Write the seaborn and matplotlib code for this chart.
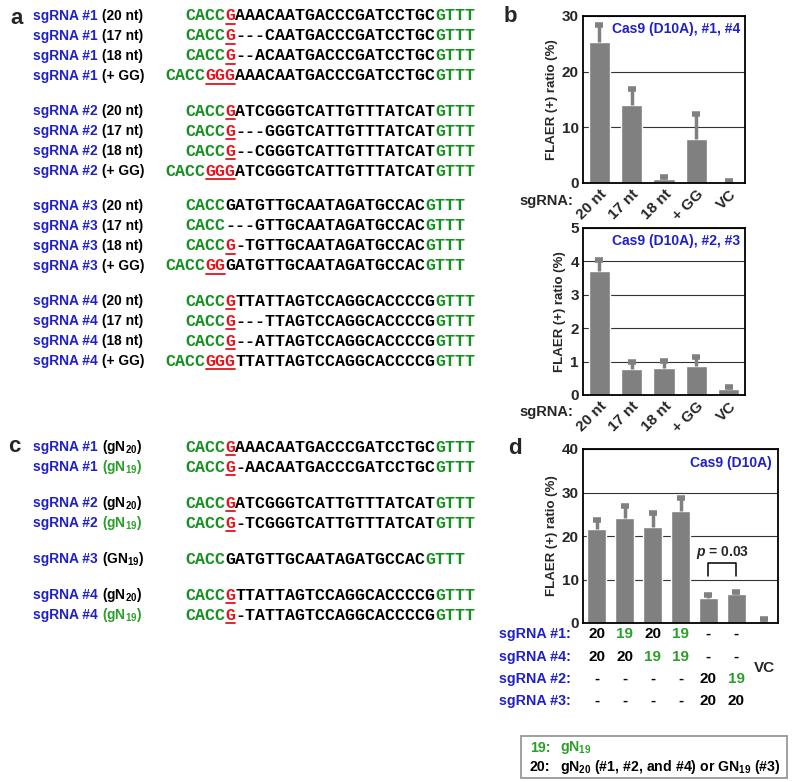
import numpy as np
import pandas as pd
import matplotlib
matplotlib.use("Agg")
import matplotlib.pyplot as plt
from matplotlib.patches import Rectangle
import seaborn as sns

# colours
BLUE = "#1f1fcc"
GREEN = "#14901e"
GREEN2 = "#2aa02a"
RED = "#e4141c"
GRAY = "#808080"

# ---- panel a: sgRNA sequences ----
a_names = ["#1"] * 4 + ["#2"] * 4 + ["#3"] * 4 + ["#4"] * 4
a_kind = ["(20 nt)", "(17 nt)", "(18 nt)", "(+ GG)"] * 4
a_red = ["G", "G", "G", "GGG",
         "G", "G", "G", "GGG",
         "", "", "G", "GG",
         "G", "G", "G", "GGG"]
a_spacer = ["AAACAATGACCCGATCCTGC", "---CAATGACCCGATCCTGC", "--ACAATGACCCGATCCTGC", "AAACAATGACCCGATCCTGC",
            "ATCGGGTCATTGTTTATCAT", "---GGGTCATTGTTTATCAT", "--CGGGTCATTGTTTATCAT", "ATCGGGTCATTGTTTATCAT",
            "GATGTTGCAATAGATGCCAC", "---GTTGCAATAGATGCCAC", "-TGTTGCAATAGATGCCAC", "GATGTTGCAATAGATGCCAC",
            "TTATTAGTCCAGGCACCCCG", "---TTAGTCCAGGCACCCCG", "--ATTAGTCCAGGCACCCCG", "TTATTAGTCCAGGCACCCCG"]

# ---- panel c: gN20 / gN19 sequences ----
c_names = ["#1", "#1", "#2", "#2", "#3", "#4", "#4"]
c_kind = ["(gN$_{20}$)", "(gN$_{19}$)", "(gN$_{20}$)", "(gN$_{19}$)", "(GN$_{19}$)", "(gN$_{20}$)", "(gN$_{19}$)"]
c_kind_col = ["black", GREEN2, "black", GREEN2, "black", "black", GREEN2]
c_red = ["G", "G", "G", "G", "", "G", "G"]
c_spacer = ["AAACAATGACCCGATCCTGC", "-AACAATGACCCGATCCTGC",
            "ATCGGGTCATTGTTTATCAT", "-TCGGGTCATTGTTTATCAT",
            "GATGTTGCAATAGATGCCAC",
            "TTATTAGTCCAGGCACCCCG", "-TATTAGTCCAGGCACCCCG"]
c_group = [0, 0, 1, 1, 2, 3, 3]

# ---- panel b ----
b_cats = ["20 nt", "17 nt", "18 nt", "+ GG", "VC"]
b1_mean = [25.3, 14.0, 0.7, 7.9, 0.1]
b1_top = [28.4, 16.9, 1.1, 12.4, 0.4]
b2_mean = [3.70, 0.78, 0.81, 0.86, 0.18]
b2_top = [4.03, 1.00, 1.01, 1.13, 0.25]

# ---- panel d ----
d_cats = ["1", "2", "3", "4", "5", "6", "7"]
d_mean = [21.6, 24.1, 22.1, 25.8, 5.7, 6.7, 0.5]
d_top = [23.7, 26.9, 25.3, 28.7, 6.4, 7.1, 0.9]
d_row_names = ["sgRNA #1:", "sgRNA #4:", "sgRNA #2:", "sgRNA #3:"]
d_rows = [["20", "19", "20", "19", "-", "-"],
          ["20", "20", "19", "19", "-", "-"],
          ["-", "-", "-", "-", "20", "19"],
          ["-", "-", "-", "-", "20", "20"]]

sns.set_style("white")
plt.rcParams["font.family"] = ["Liberation Sans", "DejaVu Sans"]
plt.rcParams["font.weight"] = "bold"
plt.rcParams["mathtext.fontset"] = "custom"
plt.rcParams["mathtext.rm"] = "Liberation Sans:bold"
plt.rcParams["mathtext.bf"] = "Liberation Sans:bold"
plt.rcParams["mathtext.it"] = "Liberation Sans:bold:italic"

W, H = 792, 782
fig = plt.figure(figsize=(W / 100, H / 100), dpi=100)

# overlay in pixel coordinates for the text panels
ov = fig.add_axes([0, 0, 1, 1])
ov.set_xlim(0, W)
ov.set_ylim(H, 0)
ov.axis("off")

MONO = dict(family="Liberation Mono", fontweight="bold", fontsize=12, va="center", ha="left")
SANS = dict(fontsize=9.9, fontweight="bold", va="center", ha="left")
CW = 10.0
SEQ_X = 185


def draw_seq(y, red, spacer, start):
    x0 = SEQ_X + start * CW
    col = 0
    for s, c in [("CACC", GREEN), (red, RED), (spacer, "black"), ("GTTT", GREEN)]:
        if s:
            ov.text(x0 + col * CW, y, s, color=c, **MONO)
            if c == RED:
                ov.plot([x0 + col * CW + 0.5, x0 + (col + len(s)) * CW - 0.5], [y + 8, y + 8],
                        color=RED, lw=1.3)
        col += len(s)


# panel a
for i in range(len(a_names)):
    g, r = divmod(i, 4)
    y = 16 + g * 95 + r * 20
    ov.text(33, y, "sgRNA " + a_names[i], color=BLUE, **SANS)
    ov.text(102, y, a_kind[i], color="black", **SANS)
    start = -2 if "GG" in a_kind[i] else 0
    draw_seq(y, a_red[i], a_spacer[i], start)

# panel c
prev_g, y = 0, 447
for i in range(len(c_names)):
    if i > 0:
        y += 20 if c_group[i] == prev_g else 36
    prev_g = c_group[i]
    ov.text(33, y, "sgRNA " + c_names[i], color=BLUE, **SANS)
    ov.text(102, y, c_kind[i], color=c_kind_col[i], **SANS)
    draw_seq(y, c_red[i], c_spacer[i], 0)

# panel letters
for lab, (x, y) in zip("abcd", [(10, 18), (504, 17), (8, 447), (508, 448)]):
    ov.text(x, y, lab, fontsize=16, fontweight="bold", va="center", ha="left")


def bar_panel(rect, cats, mean, top, ymax, step, width, title):
    ax = fig.add_axes(rect)
    df = pd.DataFrame({"cat": cats, "val": mean})
    sns.barplot(data=df, x="cat", y="val", color=GRAY, width=width, errorbar=None,
                saturation=1, ax=ax)
    x = np.arange(len(cats))
    # upper error bars only
    ax.vlines(x, mean, top, color=GRAY, lw=2.5)
    ax.plot(x, top, ls="none", marker="_", ms=6, mew=4, color=GRAY)
    ax.set_ylim(0, ymax)
    ax.set_xlim(-0.5, len(cats) - 0.5)
    ax.set_yticks(np.arange(0, ymax + 0.01, step))
    ax.yaxis.grid(True, color="#333333", lw=0.8)
    ax.set_axisbelow(True)
    for sp in ax.spines.values():
        sp.set_visible(True)
        sp.set_color("black")
        sp.set_linewidth(1.3)
    ax.tick_params(length=0, labelsize=11, pad=3)
    ax.set_ylabel("FLAER (+) ratio (%)", fontsize=9.5, fontweight="bold", labelpad=3)
    ax.set_xlabel("")
    ax.text(0.97, 0.92, title, transform=ax.transAxes, ha="right", va="center",
            color=BLUE, fontsize=10, fontweight="bold")
    return ax


axb1 = bar_panel([583 / W, 1 - 183 / H, 162 / W, 167 / H], b_cats, b1_mean, b1_top, 30, 10, 0.65,
                 "Cas9 (D10A), #1, #4")
axb2 = bar_panel([583 / W, 1 - 395 / H, 162 / W, 167 / H], b_cats, b2_mean, b2_top, 5, 1, 0.65,
                 "Cas9 (D10A), #2, #3")
for ax in (axb1, axb2):
    ax.set_xticks(range(len(b_cats)))
    ax.set_xticklabels(b_cats, rotation=45, ha="right", rotation_mode="anchor", fontsize=11)
ov.text(519, 201, "sgRNA:", fontsize=10.5, fontweight="bold", va="center", ha="left")
ov.text(519, 412, "sgRNA:", fontsize=10.5, fontweight="bold", va="center", ha="left")

axd = bar_panel([583 / W, 1 - 623 / H, 195 / W, 174 / H], d_cats, d_mean, d_top, 40, 10, 0.68,
                "Cas9 (D10A)")
axd.set_xticklabels([])
axd.plot([4, 4, 5, 5], [10.8, 13.8, 13.8, 10.8], color="black", lw=1.1)
axd.text(4.5, 16.3, "$p$ = 0.03", ha="center", va="center", fontsize=10, fontweight="bold")

tr = axd.get_xaxis_transform()
for r, (name, vals) in enumerate(zip(d_row_names, d_rows)):
    yy = [634, 657, 679, 701][r]
    ov.text(499, yy, name, color=BLUE, fontsize=10.3, fontweight="bold", va="center", ha="left")
    ya = (623 - yy) / 174
    for i, v in enumerate(vals):
        col = GREEN2 if v == "19" else "black"
        axd.text(i, ya, v, transform=tr, ha="center", va="center", color=col,
                 fontsize=11, fontweight="bold", clip_on=False)
axd.text(6, (623 - 668) / 174, "VC", transform=tr, ha="center", va="center",
         fontsize=11, fontweight="bold", clip_on=False)

# legend box
ov.add_patch(Rectangle((521, 736), 266, 42, fill=False, ec="#999999", lw=1.3))
ov.text(530, 748, "19:", color=GREEN2, fontsize=10.2, fontweight="bold", va="center", ha="left")
ov.text(560, 748, "gN$_{19}$", color=GREEN2, fontsize=10.2, fontweight="bold", va="center", ha="left")
ov.text(530, 767, "20:", color="black", fontsize=10.2, fontweight="bold", va="center", ha="left")
ov.text(560, 767, "gN$_{20}$ (#1, #2, and #4) or GN$_{19}$ (#3)", color="black",
        fontsize=10.2, fontweight="bold", va="center", ha="left")

fig.savefig("out.png", dpi=100)
